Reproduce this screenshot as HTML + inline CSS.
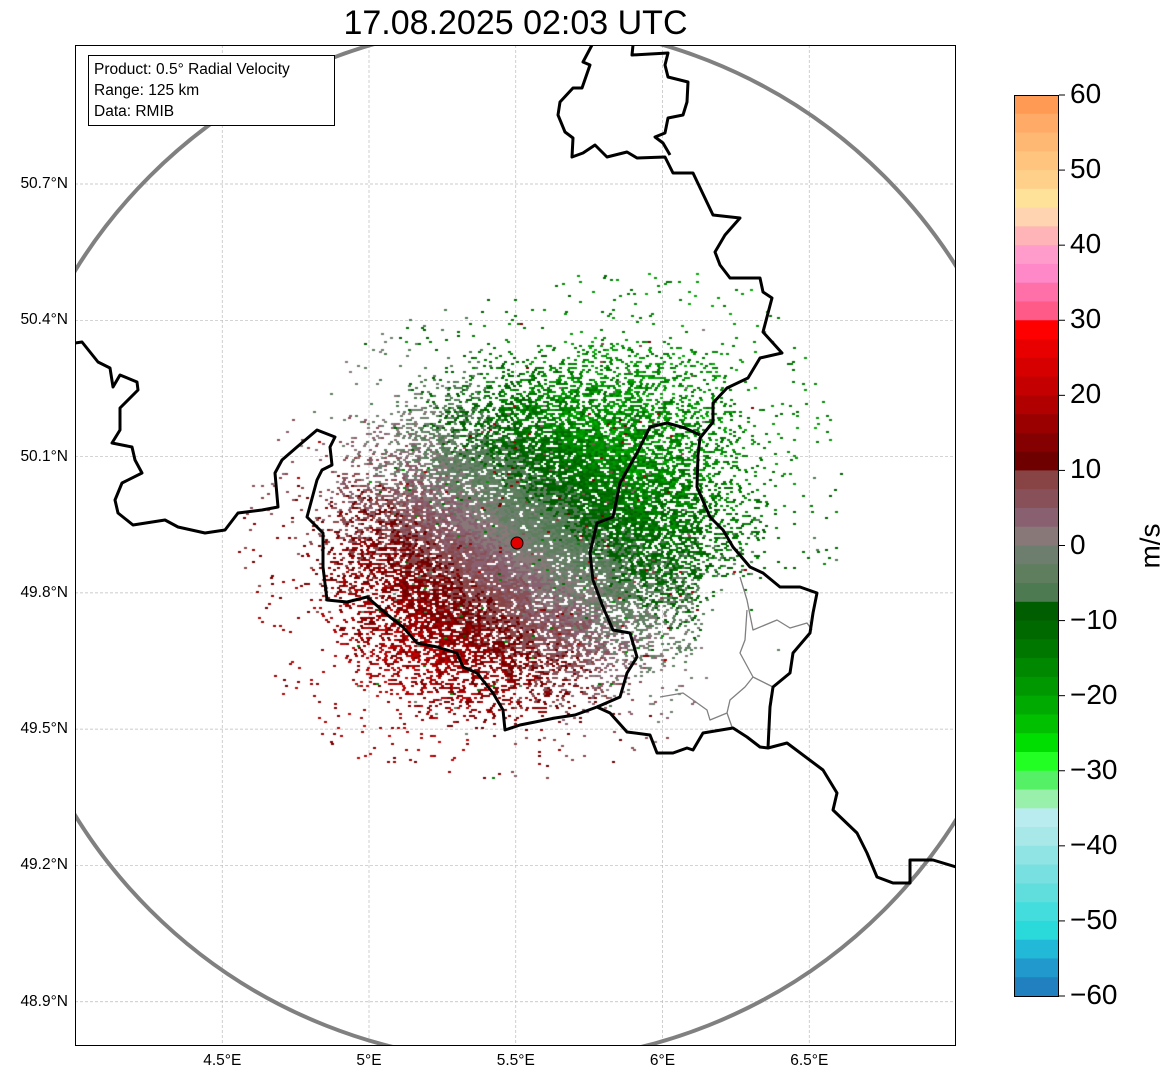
<!DOCTYPE html>
<html><head><meta charset="utf-8">
<style>
body{margin:0;background:#fff;width:1171px;height:1081px;overflow:hidden;position:relative;font-family:"Liberation Sans","DejaVu Sans",sans-serif;}
#title{position:absolute;left:0;width:1031px;top:4px;text-align:center;font-size:34px;color:#000;}
#radar{position:absolute;left:75px;top:45px;}
#over{position:absolute;left:0;top:0;}
.yl{position:absolute;left:0;width:68px;text-align:right;font-size:15.5px;}
.xl{position:absolute;top:1052px;width:60px;text-align:center;font-size:15.5px;}
#info{position:absolute;left:88px;top:55px;width:247px;height:71px;border:1px solid #000;background:#fff;font-size:15.5px;line-height:21px;padding:3px 0 0 5px;box-sizing:border-box;}
.cl{position:absolute;left:1070px;font-size:28px;}
#unit{position:absolute;left:1128px;top:530px;font-size:28px;transform:rotate(-90deg);transform-origin:center;}
</style></head><body>
<div id="title">17.08.2025 02:03 UTC</div>
<svg id="grid" style="position:absolute;left:0;top:0" width="1171" height="1081"></svg>
<canvas id="radar" width="881" height="1001"></canvas>
<svg id="over" width="1171" height="1081">
<defs><clipPath id="cp"><rect x="75" y="45" width="881" height="1001"/></clipPath></defs>
<g clip-path="url(#cp)" fill="none" stroke-linejoin="round">
<circle cx="517" cy="543" r="519" stroke="#808080" stroke-width="4"/>
<polyline stroke="#808080" stroke-width="1.3" points="740,577 747,600 753,630 777,620 790,628 807,623 812,630"/>
<polyline stroke="#808080" stroke-width="1.3" points="747,610 745,640 740,653 753,677 773,687 770,700"/>
<polyline stroke="#808080" stroke-width="1.3" points="753,677 745,687 730,700 727,713 710,720 707,710 693,700 683,693 660,697"/>
<polyline stroke="#808080" stroke-width="1.3" points="727,713 732,727"/>
<g stroke="#000" stroke-width="3">
<polyline points="75,343 82,342 98,362 110,368 113,387 120,375 137,382 138,390 120,408 120,430 112,443 132,447 135,460 142,473 122,483 115,500 118,513 133,525 165,520 178,527 205,533 225,530 238,513 262,510 278,507 275,473 282,460 297,447 317,430 335,437 330,447 332,465 322,470 317,480 307,517 323,533 323,567 327,600 347,602 367,597 390,617 403,627 417,643 437,647 457,653 463,667 477,673 493,693 503,710 505,730 520,725 555,718 575,715 597,707 610,713 627,732 650,735 657,753 673,753 687,748 693,750 703,733 733,728 747,737 760,747 768,748 787,743 823,770 837,793 833,810 857,833 867,853 877,877 893,883 910,883 910,860 933,860 956,867"/>
<polyline points="597,707 620,697 627,673 637,657 630,633 613,630 603,607 593,580 590,553 597,523 613,517 620,483 637,453 650,427 667,423 685,428 700,435"/>
<polyline points="592,45 583,62 590,65 582,88 573,88 560,102 558,115 565,132 573,138 572,157 583,153 595,145 607,157 627,152 637,158 665,157 673,173 693,173 713,215 740,218 725,235 715,252 720,265 730,278 760,278 763,292 772,298 763,332 782,353 760,358 748,378 727,388 713,403 713,422 700,438 698,455 697,487 710,517 723,530 733,547 750,567 763,573 780,587 800,587 817,593 813,613 810,633 793,653 790,673 773,687 770,707 768,748"/>
<polyline points="633,45 632,55 668,53 665,65 668,77 688,82 687,102 683,115 668,118 665,133 655,137 663,143 670,155"/>
</g></g>
<circle cx="517" cy="543" r="6" fill="#e00000" stroke="#000" stroke-width="1"/>
<rect x="75.5" y="45.5" width="880" height="1000" fill="none" stroke="#000" stroke-width="1"/>
<g id="cbar"></g>
</svg>
<div id="info">Product: 0.5° Radial Velocity<br>Range: 125 km<br>Data: RMIB</div>
<div id="unit">m/s</div>
<div id="labels"></div>
<script>
const latTicks=[50.7,50.4,50.1,49.8,49.5,49.2,48.9];
const lonTicks=[4.5,5,5.5,6,6.5];
const cbTicks=[60,50,40,30,20,10,0,-10,-20,-30,-40,-50,-60];
const cbColors=["#ff9a55","#ffaa66","#ffb873","#ffc47e","#ffd08a","#ffe29a","#ffd4b0","#ffb4b8","#ff9ccc","#ff88c8","#ff6fa8","#ff5a88","#ff0000","#e80000","#d60000","#c40000","#b00000","#9a0000","#850000","#6e0000","#884444","#885058","#886070","#887878","#6e7e6e","#5e7e5e","#4e7a52","#005e00","#006a00","#007800","#008800","#009800","#00aa00","#00c000","#00dd00","#22ff22","#55f066","#99f0aa","#b8ecee","#a8e8e8","#90e4e4","#78e0e0","#60dede","#44dddd","#2adada","#22b8d8","#2299cc","#2080c0"];
const X=lon=>369+(lon-5)*293.5, Y=lat=>184+(50.7-lat)*454.3;
const ns="http://www.w3.org/2000/svg";
const grid=document.getElementById('grid'), labels=document.getElementById('labels');
latTicks.forEach(t=>{
 const l=document.createElementNS(ns,'line');
 
 
 l.setAttribute('x1',75);l.setAttribute('x2',956);l.setAttribute('y1',Y(t));l.setAttribute('y2',Y(t));
 l.setAttribute('stroke','#bbb');l.setAttribute('stroke-width','0.7');l.setAttribute('stroke-dasharray','3,2');grid.appendChild(l);
 const d=document.createElement('div');d.className='yl';d.style.top=(Y(t)-9)+'px';d.textContent=t.toFixed(1)+'°N';
 
 
 labels.appendChild(d);
});
lonTicks.forEach(t=>{
 const l=document.createElementNS(ns,'line');
 
 
 l.setAttribute('y1',45);l.setAttribute('y2',1046);l.setAttribute('x1',X(t));l.setAttribute('x2',X(t));
 l.setAttribute('stroke','#bbb');l.setAttribute('stroke-width','0.7');l.setAttribute('stroke-dasharray','3,2');grid.appendChild(l);
 const d=document.createElement('div');d.className='xl';d.style.left=(X(t)-30)+'px';d.textContent=(t%1?t:t.toFixed(0))+'°E';
 
 
 labels.appendChild(d);
});
const cb=document.getElementById('cbar');const cbTop=95,cbH=901,bh=cbH/cbColors.length;
cbColors.forEach((c,i)=>{
 const r=document.createElementNS(ns,'rect');
 
 
 r.setAttribute('x',1014);r.setAttribute('y',cbTop+i*bh);r.setAttribute('width',45);r.setAttribute('height',bh+0.5);r.setAttribute('fill',c);cb.appendChild(r);
});
const fr=document.createElementNS(ns,'rect');fr.setAttribute('x',1014.5);fr.setAttribute('y',95.5);fr.setAttribute('width',44);fr.setAttribute('height',901);fr.setAttribute('fill','none');fr.setAttribute('stroke','#000');cb.appendChild(fr);
const cy=v=>cbTop+(60-v)/120*cbH;
cbTicks.forEach(t=>{
 const l=document.createElementNS(ns,'line');
 
 
 l.setAttribute('x1',1059);l.setAttribute('x2',1065);l.setAttribute('y1',cy(t));l.setAttribute('y2',cy(t));l.setAttribute('stroke','#000');cb.appendChild(l);
 const d=document.createElement('div');d.className='cl';d.style.top=(cy(t)-17)+'px';d.textContent=(t<0?'\u2212'+(-t):t);
 
 
 labels.appendChild(d);
});
// radar texture
const cv=document.getElementById('radar'),ctx=cv.getContext('2d');
const R8=[190,270,250,190,180,215,215,195];
function hash(a,b,s){const v=Math.sin(a*12.9898+b*78.233+s*37.719)*43758.5453;return v-Math.floor(v);}
const cx=442,cyc=498;
for(let j=0;j<1001;j+=2){for(let i=0;i<881;i+=3){
 const ii=i+((j/2)%2)*1;
 const dx=ii-cx,dy=j-cyc,r=Math.hypot(dx,dy);
 let az=Math.atan2(dx,-dy);if(az<0)az+=2*Math.PI;
 const f=az/(Math.PI/4),k=Math.floor(f)%8,w=f-Math.floor(f);
 const R=R8[k]*(1-w)+R8[(k+1)%8]*w;
 const q=r/R;let p;
 if(q<0.5)p=0.97-q*0.3;else if(q<1)p=0.82-(q-0.5)/0.5*0.75;else if(q<1.3)p=0.03;else p=0;
 const gx=ii+75,gy=j+45;
 if(gx>700&&gy>575)p*=0.08;
 if(hash(ii,j,1)>p)continue;
 const V=Math.min(17,0.13*r);
 let v=-V*Math.cos(az-0.7)+(hash(ii,j,2)-0.5)*(3+Math.min(r,150)*0.05);
 if(hash(ii,j,3)<0.03)v=(hash(ii,j,4)-0.5)*40;
 const idx=Math.max(0,Math.min(47,Math.floor((60-v)/2.5)));
 ctx.fillStyle=cbColors[idx];
 ctx.fillRect(ii,j,3,2);
}}
</script>
</body></html>
